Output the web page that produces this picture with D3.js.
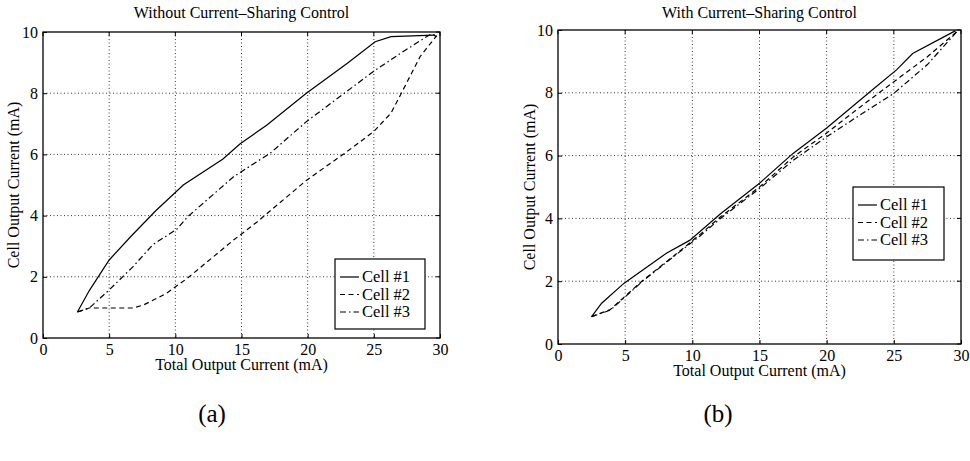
<!DOCTYPE html>
<html><head><meta charset="utf-8">
<script src="https://cdn.jsdelivr.net/npm/d3@7"></script>
<style>body{margin:0;background:#fff}</style>
</head><body><svg id="c" width="970" height="461"></svg>
<script>
const xTicks = [0,5,10,15,20,25,30];
const yTicks = [0,2,4,6,8,10];
const seriesNames = ["Cell #1","Cell #2","Cell #3"];
// Panel (a): without current-sharing control
const aCell1 = [[2.6,0.85],[3.5,1.55],[5.0,2.55],[6.6,3.3],[8.5,4.15],[10.6,5.0],[13.6,5.85],[14.9,6.35],[16.9,6.95],[19.9,8.0],[23.0,8.98],[25.1,9.68],[26.3,9.85],[29.5,9.9],[29.75,9.85]];
const aCell2 = [[2.6,0.85],[3.5,0.98],[6.8,0.98],[7.6,1.08],[9.3,1.45],[10.9,1.95],[14.4,3.2],[16.2,3.8],[19.9,5.15],[23.0,6.1],[25.0,6.75],[26.3,7.35],[27.2,8.1],[28.5,9.2],[29.75,9.88]];
const aCell3 = [[2.6,0.85],[3.5,0.98],[5.0,1.57],[6.8,2.33],[8.3,3.05],[10.1,3.55],[10.9,3.95],[14.4,5.27],[17.2,6.05],[19.9,7.07],[25.0,8.72],[27.0,9.3],[28.2,9.63],[29.3,9.93],[29.75,9.9]];
// Panel (b): with current-sharing control
const bCell1 = [[2.5,0.87],[3.25,1.3],[4.9,1.93],[8.1,2.9],[9.8,3.3],[12.1,4.15],[15.0,5.12],[17.5,6.07],[20.0,6.88],[23.7,8.2],[25.2,8.73],[26.4,9.25],[29.6,9.98]];
const bCell2 = [[2.5,0.87],[3.9,1.1],[6.3,2.02],[9.1,2.97],[10.6,3.5],[12.1,4.05],[15.0,5.0],[17.5,5.95],[20.0,6.72],[22.5,7.55],[25.0,8.35],[27.5,9.15],[29.7,9.95]];
const bCell3 = [[2.5,0.87],[3.9,1.08],[6.3,2.0],[9.1,2.95],[10.6,3.45],[12.1,4.0],[15.0,4.95],[17.5,5.85],[20.0,6.6],[22.5,7.3],[25.0,7.98],[27.5,8.9],[29.7,9.95]];
const titles = ["Without Current\u2013Sharing Control","With Current\u2013Sharing Control"];
const xLabel = "Total Output Current (mA)";
const yLabel = "Cell Output Current (mA)";
const panelLabels = ["(a)","(b)"];

const FONT = "'Liberation Serif', 'DejaVu Serif', serif";
const dashes = [null,"5,3.5","6,3,1.5,3"];
const svg = d3.select("#c");

function txt(sel){ return sel.style("font-family",FONT).style("fill","#000"); }

function panel(cfg){
  const x = d3.scaleLinear().domain([0,30]).range([cfg.l,cfg.r]);
  const y = d3.scaleLinear().domain([0,10]).range([cfg.b,cfg.t]);
  const g = svg.append("g");
  g.selectAll(".gx").data(xTicks.slice(1,-1)).enter().append("line")
    .attr("x1",d=>x(d)).attr("x2",d=>x(d)).attr("y1",cfg.t).attr("y2",cfg.b)
    .attr("stroke","#000").attr("stroke-width",0.8).attr("stroke-dasharray","1,2.5");
  g.selectAll(".gy").data(yTicks.slice(1,-1)).enter().append("line")
    .attr("y1",d=>y(d)).attr("y2",d=>y(d)).attr("x1",cfg.l).attr("x2",cfg.r)
    .attr("stroke","#000").attr("stroke-width",0.8).attr("stroke-dasharray","1,2.5");
  const xa = g.append("g").attr("transform",`translate(0,${cfg.b})`)
    .call(d3.axisBottom(x).tickValues(xTicks).tickSize(-4).tickPadding(8).tickFormat(d3.format("d")));
  const ya = g.append("g").attr("transform",`translate(${cfg.l},0)`)
    .call(d3.axisLeft(y).tickValues(yTicks).tickSize(-4).tickPadding(5).tickFormat(d3.format("d")));
  [xa,ya].forEach(a=>{a.attr("font-family",null);a.select(".domain").remove();txt(a.selectAll("text")).attr("font-size",16);a.selectAll("line").attr("stroke","#000");});
  xa.selectAll("text").attr("dy","0.55em");
  g.selectAll(".tt").data(xTicks).enter().append("line").attr("x1",d=>x(d)).attr("x2",d=>x(d)).attr("y1",cfg.t).attr("y2",cfg.t+4).attr("stroke","#000");
  g.selectAll(".tr").data(yTicks).enter().append("line").attr("y1",d=>y(d)).attr("y2",d=>y(d)).attr("x1",cfg.r).attr("x2",cfg.r-4).attr("stroke","#000");
  g.append("rect").attr("x",cfg.l).attr("y",cfg.t).attr("width",cfg.r-cfg.l).attr("height",cfg.b-cfg.t)
    .attr("fill","none").attr("stroke","#000").attr("stroke-width",1.3);
  const line = d3.line().x(d=>x(d[0])).y(d=>y(d[1]));
  cfg.data.forEach((s,i)=>{
    g.append("path").attr("d",line(s)).attr("fill","none").attr("stroke","#000").attr("stroke-width",1.2)
      .attr("stroke-dasharray",dashes[i]);
  });
  txt(g.append("text")).attr("x",(cfg.l+cfg.r)/2).attr("y",18).attr("text-anchor","middle").attr("font-size",16).text(cfg.title);
  txt(g.append("text")).attr("x",(cfg.l+cfg.r)/2).attr("y",cfg.b+32).attr("text-anchor","middle").attr("font-size",16).text(xLabel);
  txt(g.append("text")).attr("transform",`translate(${cfg.yl},${(cfg.t+cfg.b)/2}) rotate(-90)`).attr("text-anchor","middle").attr("font-size",16).text(yLabel);
  txt(g.append("text")).attr("x",cfg.pl).attr("y",422).attr("text-anchor","middle").attr("font-size",25).text(cfg.plabel);
  const L = cfg.leg;
  const lg = g.append("g");
  lg.append("rect").attr("x",L.x).attr("y",L.y).attr("width",L.w).attr("height",L.h).attr("fill","#fff").attr("stroke","#000").attr("stroke-width",1.2);
  seriesNames.forEach((n,i)=>{
    const yy = L.y+18+i*17.5;
    lg.append("line").attr("x1",L.x+5).attr("x2",L.x+24).attr("y1",yy).attr("y2",yy).attr("stroke","#000").attr("stroke-width",1.2).attr("stroke-dasharray",dashes[i]);
    txt(lg.append("text")).attr("x",L.x+27).attr("y",yy+5).attr("font-size",16.5).text(n);
  });
}

panel({l:43,r:440,t:32,b:338,title:titles[0],yl:19,pl:212,plabel:panelLabels[0],data:[aCell1,aCell2,aCell3],leg:{x:335,y:259,w:90,h:70}});
panel({l:558,r:961,t:30,b:344,title:titles[1],yl:535,pl:718,plabel:panelLabels[1],data:[bCell1,bCell2,bCell3],leg:{x:853,y:187,w:91,h:73}});
</script></body></html>
